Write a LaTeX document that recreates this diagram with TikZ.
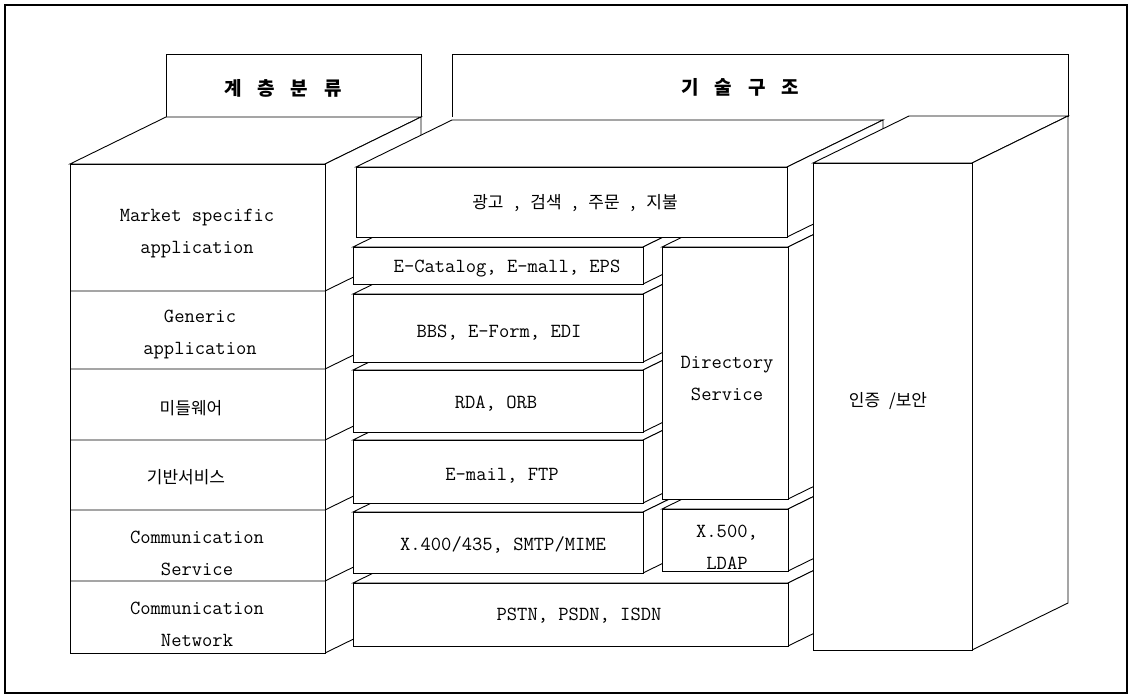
\documentclass[tikz,border=0pt]{standalone}
\usepackage{fontspec}
\newfontfamily\kor{Noto Sans CJK KR}
\newcommand\drawblock[4]{%
  \draw[face] (#1,#2) -- ({#1+96},{#2-47}) -- ({#3+96},{#2-47}) -- (#3,#2) -- cycle;
  \draw[face] (#3,#2) -- ({#3+96},{#2-47}) -- ({#3+96},{#4-47}) -- (#3,#4) -- cycle;
  \draw[face] (#1,#2) rectangle (#3,#4);
}
\begin{document}
\begin{tikzpicture}[x=1pt,y=-1pt,
  face/.style={draw=black,fill=white,line width=0.9pt,line join=miter},
  edge/.style={draw=black,line width=0.9pt},
  lat/.style={font=\fontsize{20}{32}\selectfont\ttfamily,align=center,inner sep=0pt},
  ko/.style={font=\fontsize{17}{20}\selectfont\kor,inner sep=0pt},
  hd/.style={font=\fontsize{19}{20}\selectfont\kor\bfseries,inner sep=0pt}]
\useasboundingbox (0,0) rectangle (1134,695);
\fill[white] (0,0) rectangle (1134,695);
% label panels
\draw[edge] (166,117) -- (166,54) -- (421,54) -- (421,117);
\draw[edge] (452,117) -- (452,54) -- (1068,54) -- (1068,117);
% left block
\drawblock{70}{164}{325}{653}
\foreach \b in {291,369,440,510,581}
  \draw[edge] (70,\b) -- (325,\b) -- ({325+96},{\b-47});
% middle blocks (bottom to top, left to right)
\drawblock{353}{583}{788}{646}
\drawblock{353}{512}{643}{573}
\drawblock{353}{440}{643}{503}
\drawblock{353}{370}{643}{432}
\drawblock{353}{294}{643}{362}
\drawblock{353}{247}{643}{284}
\drawblock{662}{509}{788}{571}
\drawblock{662}{247}{788}{499}
\drawblock{356}{167}{787}{237}
% tall block
\drawblock{813}{163}{972}{650}
% frame
\draw[line width=1.4pt] (5,5) rectangle (1127,693);
% texts
\node[hd] (h1) at (283,88) {\spaceskip=16pt 계 층 분 류};
\node[hd] (h2) at (740,87) {\spaceskip=16pt 기 술 구 조};
\node[lat] (t1) at (197,234) {Market specific\\application};
\node[lat] (t2) at (200,334) {Generic\\application};
\node[ko] (t3) at (191,408) {미들웨어};
\node[ko] (t4) at (186,477) {기반서비스};
\node[lat] (t5) at (197,553) {Communication\\Service};
\node[lat] (t6) at (197,624) {Communication\\Network};
\node[ko] (m1) at (575,203) {\spaceskip=11pt 광고 , 검색 , 주문 , 지불};
\node[lat] (m2) at (507,269) {E-Catalog, E-mall, EPS};
\node[lat] (m3) at (499,333) {BBS, E-Form, EDI};
\node[lat] (m4) at (496,404) {RDA, ORB};
\node[lat] (m5) at (502,476) {E-mail, FTP};
\node[lat] (m6) at (503,545) {X.400/435, SMTP/MIME};
\node[lat] (m7) at (579,616) {PSTN, PSDN, ISDN};
\node[lat] (r1) at (727,379) {Directory\\Service};
\node[lat] (r2) at (727,547) {X.500,\\LDAP};
\node[ko] (s1) at (888,401) {\spaceskip=9pt 인증 /보안};
\end{tikzpicture}
\end{document}
